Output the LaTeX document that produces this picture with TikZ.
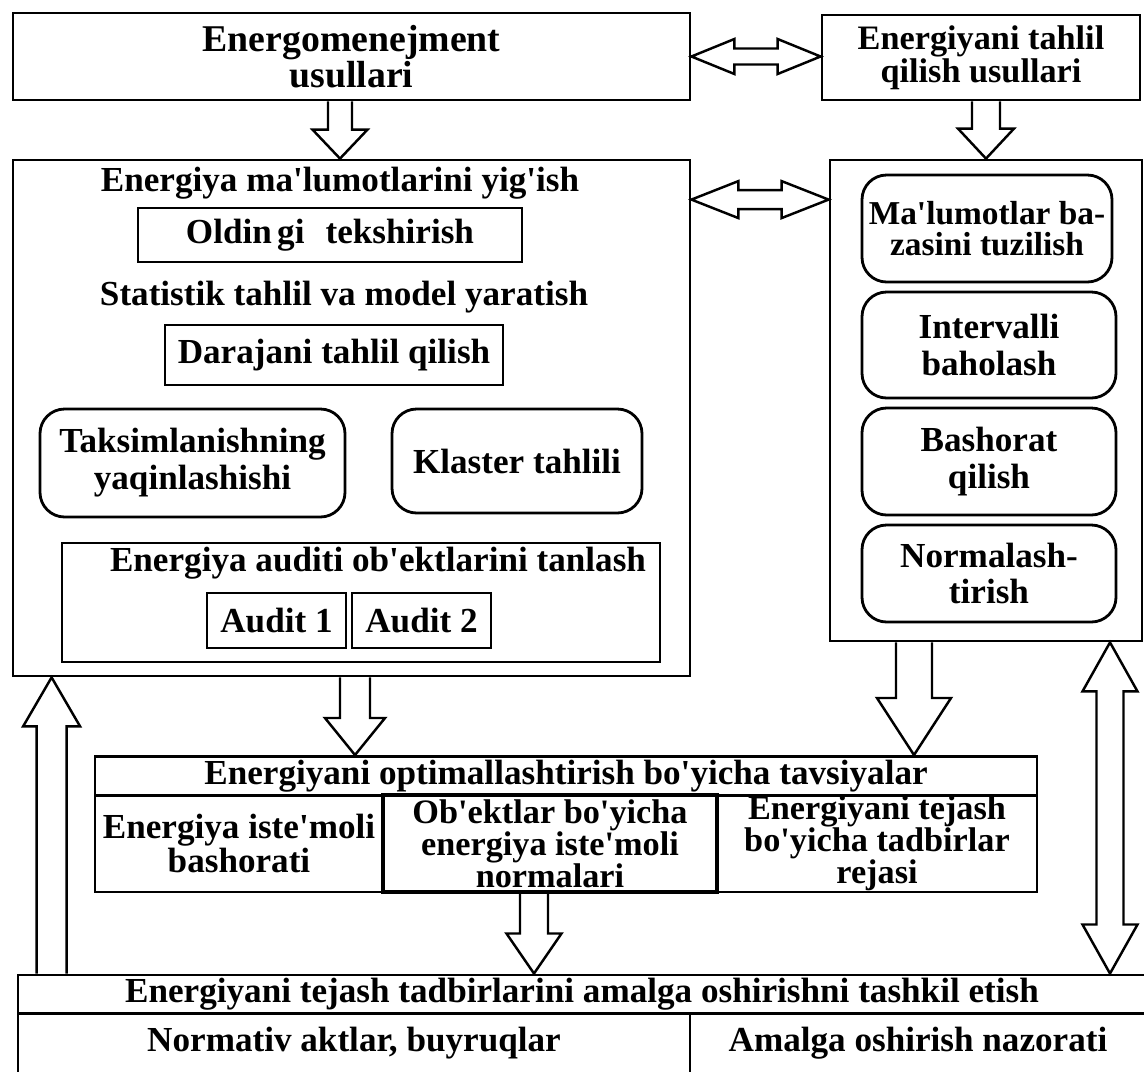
\documentclass[tikz,border=0pt]{standalone}
\usepackage{fontspec}
\setmainfont{Liberation Serif}[Ligatures=TeXOff]
\usepackage{tikz}
\usetikzlibrary{calc}

\tikzset{
  box/.style={draw, line width=1.6pt, align=center, inner sep=2pt,
              font=\fontsize{20}{21}\selectfont\bfseries},
  rbox/.style={box, rounded corners=14pt},
  lbl/.style={align=center, inner sep=0pt, font=\fontsize{20}{21}\selectfont\bfseries},
  wh/.style 2 args={minimum width=#1*0.02cm, minimum height=#2*0.02cm},
  fat/.style={draw, line width=1.4pt, line join=miter}
}

% hollow block arrows: #1 start, #2 tip, #3 half shaft, #4 half head, #5 head length
\newcommand{\fatv}[5]{%
  \draw[fat] ($(#1)+(-#3,0)$) -- ($(#2)+(-#3,#5)$) -- ($(#2)+(-#4,#5)$) -- (#2)
    -- ($(#2)+(#4,#5)$) -- ($(#2)+(#3,#5)$) -- ($(#1)+(#3,0)$);}
\newcommand{\fatvv}[5]{%
  \draw[fat] (#1) -- ($(#1)+(#4,#5)$) -- ($(#1)+(#3,#5)$) -- ($(#2)+(#3,-#5)$)
    -- ($(#2)+(#4,-#5)$) -- (#2) -- ($(#2)+(-#4,-#5)$) -- ($(#2)+(-#3,-#5)$)
    -- ($(#1)+(-#3,#5)$) -- ($(#1)+(-#4,#5)$) -- cycle;}
\newcommand{\fath}[5]{%
  \draw[fat] (#1) -- ($(#1)+(#5,-#4)$) -- ($(#1)+(#5,-#3)$) -- ($(#2)+(-#5,-#3)$)
    -- ($(#2)+(-#5,-#4)$) -- (#2) -- ($(#2)+(-#5,#4)$) -- ($(#2)+(-#5,#3)$)
    -- ($(#1)+(#5,#3)$) -- ($(#1)+(#5,#4)$) -- cycle;}

\begin{document}
\begin{tikzpicture}[x=0.02cm, y=-0.02cm]
\useasboundingbox (0,0) rectangle (1144,1072);

\begin{scope}
    % top row
    \node[box, wh={677}{87}, font=\fontsize{21.5}{19}\selectfont\bfseries] (emus) at (351.5,56.5) {Energomenejment\\usullari};
    \node[box, wh={318}{85}, font=\fontsize{19.5}{19}\selectfont\bfseries] (etah) at (981,57.5) {Energiyani tahlil\\qilish usullari};

    % left block
    \node[box, wh={677}{516}] (lbox) at (351.5,418) {};
    \node[lbl] (yigish) at (340,183) {Energiya ma'lumotlarini yig'ish};
    \node[box, wh={384}{54}] (oldin) at (330,235) {Oldin\hspace{3pt}gi\hspace{12pt}tekshirish};
    \node[lbl] (stat) at (344,297) {Statistik tahlil va model yaratish};
    \node[box, wh={338}{60}] (daraja) at (334,355) {Darajani tahlil qilish};
    \node[rbox, wh={305}{108}] (taks) at (192.5,463) {Taksimlanishning\\yaqinlashishi};
    \node[rbox, wh={250}{104}] (klast) at (517,461) {Klaster tahlili};
    \node[box, wh={598}{119}] (audsel) at (361,602.5) {};
    \node[lbl] (audtxt) at (378,563) {Energiya auditi ob'ektlarini tanlash};
    \node[box, wh={139}{55}] (aud1) at (276.5,620.5) {Audit 1};
    \node[box, wh={139}{55}] (aud2) at (421.5,620.5) {Audit 2};

    % right block
    \node[box, wh={312}{481}] (rbox) at (986,400.5) {};
    \node[rbox, wh={250}{107}, inner sep=0pt, font=\fontsize{19}{18}\selectfont\bfseries] (baza) at (987,228.5) {Ma'lumotlar ba-\\zasini tuzilish};
    \node[rbox, wh={254}{106}] (interv) at (989,345) {Intervalli\\baholash};
    \node[rbox, wh={254}{107}] (bash) at (989,461.5) {Bashorat\\qilish};
    \node[rbox, wh={254}{97}] (norm) at (989,573.5) {Normalash-\\tirish};

    % recommendations
    \node[box, wh={942}{38}] (optH) at (566,776) {Energiyani optimallashtirish bo'yicha tavsiyalar};
    \node[box, wh={288}{97}] (c1) at (239,843.5) {};
    \node[box, wh={334}{97}, line width=2.2pt] (c2) at (550,843.5) {};
    \node[box, wh={320}{97}] (c3) at (877,843.5) {};
    \node[lbl, font=\fontsize{20}{19.5}\selectfont\bfseries] (c1t) at (c1) {Energiya iste'moli\\bashorati};
    \node[lbl, font=\fontsize{19.5}{18.2}\selectfont\bfseries] (c2t) at (c2) {Ob'ektlar bo'yicha\\energiya iste'moli\\normalari};
    \node[lbl, font=\fontsize{19.5}{18.2}\selectfont\bfseries] (c3t) at (c3) {Energiyani tejash\\bo'yicha tadbirlar\\rejasi};

    % organisation
    \node[box, wh={1128}{37}] (tH) at (582,994.5) {Energiyani tejash tadbirlarini amalga oshirishni tashkil etish};
    \node[box, wh={672}{61}] (tL) at (354,1043.5) {Normativ aktlar, buyruqlar};
    \node[box, wh={456}{61}] (tR) at (918,1043.5) {Amalga oshirish nazorati};
\end{scope}

\begin{scope}
    \coordinate (a1) at ($(emus.south)+(-11.5,0)$);
    \coordinate (a2) at ($(etah.south)+(5,0)$);
    \coordinate (h2) at ($(lbox.north east)+(0,41)$);
    \coordinate (a3) at ($(lbox.south)+(3.5,0)$);
    \coordinate (a4) at ($(rbox.south)+(-72,0)$);
    \coordinate (a5) at ($(c2.south)+(-16,0)$);
    \coordinate (a6) at ($(tH.north west)+(35,0)$);
    \coordinate (v1) at ($(rbox.south)+(124,0)$);

    \fatv{a1}{a1 |- lbox.north}{12}{27.5}{-29}
    \fatv{a2}{a2 |- rbox.north}{14}{28}{-30}
    \fath{emus.east}{emus.east -| etah.west}{8}{17.5}{43}
    \fath{h2}{h2 -| rbox.west}{9.5}{18.5}{47}
    \fatv{a3}{a3 |- optH.north}{15}{30}{-37}
    \fatv{a4}{a4 |- optH.north}{18}{37}{-57}
    \fatv{a5}{a5 |- tH.north}{14}{27.5}{-40}
    \fatv{a6}{a6 |- lbox.south}{15}{28.5}{49}
    \fatvv{v1}{v1 |- tH.north}{13.5}{27.5}{49}
\end{scope}
\end{tikzpicture}
\end{document}
